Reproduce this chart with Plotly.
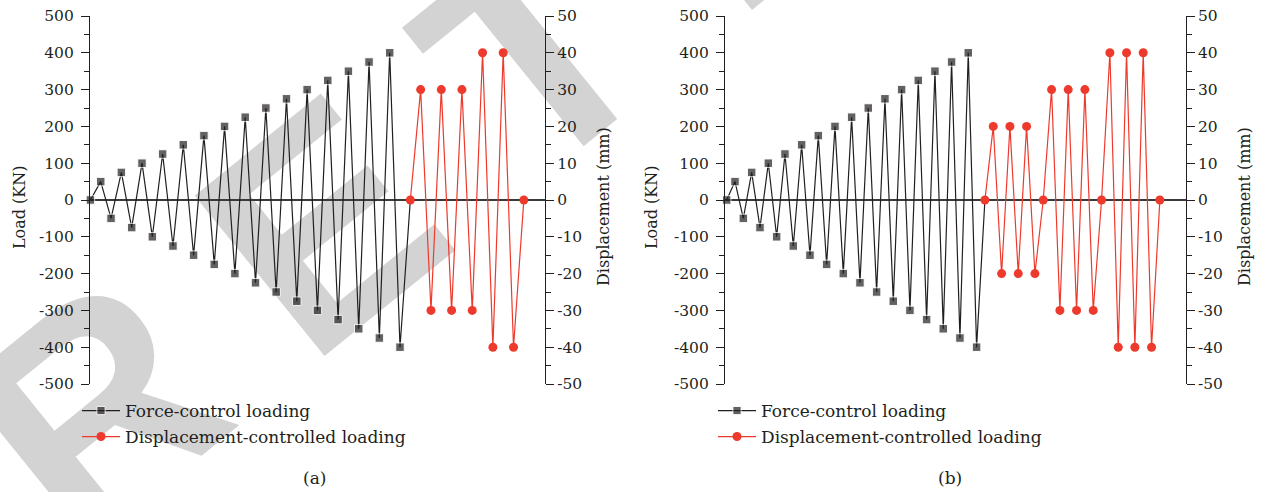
import math
import plotly.graph_objects as go

# ---------------- data ----------------
force_load_a = [0, 50, -50, 75, -75, 100, -100, 125, -125, 150, -150, 175, -175,
                200, -200, 225, -225, 250, -250, 275, -275, 300, -300, 325, -325,
                350, -350, 375, -375, 400, -400, 0]
disp_a = [0, 30, -30, 30, -30, 30, -30, 40, -40, 40, -40, 0]

force_load_b = [0, 50, -50, 75, -75, 100, -100, 125, -125, 150, -150, 175, -175,
                200, -200, 225, -225, 250, -250, 275, -275, 300, -300, 325, -325,
                350, -350, 375, -375, 400, -400, 0]
disp_b = [0, 20, -20, 20, -20, 20, -20, 0, 30, -30, 30, -30, 30, -30, 0,
          40, -40, 40, -40, 40, -40, 0]

load_ticks = [-500, -400, -300, -200, -100, 0, 100, 200, 300, 400, 500]
load_labels = ["-500", "-400", "-300", "-200", "-100", "0", "100", "200", "300", "400", "500"]
disp_ticks = [-50, -40, -30, -20, -10, 0, 10, 20, 30, 40, 50]
disp_labels = ["-50", "-40", "-30", "-20", "-10", "0", "10", "20", "30", "40", "50"]

force_name = "Force-control loading"
disp_name = "Displacement-controlled loading"
watermark = "R E T R A C T E D"

# ---------------- style ----------------
W, H = 1261, 492
BLACK = "#231f20"
RED = "#ee3a2c"
SERIF = "DejaVu Serif"

def px_x(p):
    return p / W

def px_y(p):
    return 1 - p / H

fig = go.Figure()

def add_panel(force, disp, xa, ya_left, ya_right, leg1, leg2):
    n_force = len(force)
    fx = list(range(n_force))
    sizes = [8.5] * (n_force - 1) + [0]
    fig.add_trace(go.Scatter(
        x=fx, y=force, xaxis=xa, yaxis=ya_left, mode="lines+markers",
        name=force_name, legend=leg1, cliponaxis=False,
        line=dict(color=BLACK, width=1.2),
        marker=dict(symbol="square", size=sizes, color=BLACK),
    ))
    dx = list(range(n_force - 1, n_force - 1 + len(disp)))
    fig.add_trace(go.Scatter(
        x=dx, y=disp, xaxis=xa, yaxis=ya_right, mode="lines+markers",
        name=disp_name, legend=leg2, cliponaxis=False,
        line=dict(color=RED, width=1.2),
        marker=dict(symbol="circle", size=9, color=RED),
    ))

add_panel(force_load_a, disp_a, "x", "y", "y2", "legend", "legend2")
add_panel(force_load_b, disp_b, "x2", "y3", "y4", "legend3", "legend4")

ydom = [px_y(384), px_y(16)]

def left_axis(anchor):
    return dict(
        domain=ydom, anchor=anchor, range=[-500, 500],
        tickmode="array", tickvals=load_ticks, ticktext=load_labels,
        showline=True, linecolor=BLACK, linewidth=1.3,
        ticks="outside", ticklen=8, tickwidth=1.3, tickcolor=BLACK,
        minor=dict(ticks="outside", ticklen=5, tickwidth=1.3, tickcolor=BLACK, dtick=50, tick0=0),
        showgrid=False, zeroline=True, zerolinecolor="#3a3a3a", zerolinewidth=1.5,
        tickfont=dict(family=SERIF, size=15.5, color=BLACK),
        ticklabelstandoff=4,
    )

def right_axis(anchor, overlay):
    return dict(
        domain=ydom, anchor=anchor, overlaying=overlay, side="right", range=[-50, 50],
        tickmode="array", tickvals=disp_ticks, ticktext=disp_labels,
        showline=True, linecolor=BLACK, linewidth=1.3,
        ticks="outside", ticklen=8, tickwidth=1.3, tickcolor=BLACK,
        minor=dict(ticks="outside", ticklen=5, tickwidth=1.3, tickcolor=BLACK, dtick=5, tick0=0),
        showgrid=False, zeroline=False,
        tickfont=dict(family=SERIF, size=15.5, color=BLACK),
    )

xa = dict(domain=[px_x(90), px_x(545)], range=[-0.04, 44.05], visible=False,
          anchor="y", showgrid=False, zeroline=False)
xb = dict(domain=[px_x(725), px_x(1185.7)], range=[-0.2, 55.1], visible=False,
          anchor="y3", showgrid=False, zeroline=False)

def legend_at(xp, yp):
    return dict(x=px_x(xp), y=px_y(yp), xanchor="left", yanchor="middle",
                bgcolor="rgba(0,0,0,0)", borderwidth=0, itemwidth=38,
                font=dict(family=SERIF, size=17, color=BLACK))

annotations = []
def title(text, xp, yp, angle=-90, size=16):
    annotations.append(dict(text=text, x=px_x(xp), y=px_y(yp), xref="paper", yref="paper",
                            showarrow=False, textangle=angle, xanchor="center", yanchor="middle",
                            font=dict(family=SERIF, size=size, color=BLACK)))

title("Load (KN)", 20, 207)
title("Displacement (mm)", 604, 207)
title("Load (KN)", 652, 207)
title("Displacement (mm)", 1245, 207)
title("(a)", 314, 478, angle=0, size=17)
title("(b)", 950, 478, angle=0, size=17)

# watermark (drawn below the data)
cx, cy = 962, -330
ang = math.radians(39)
dxp, dyp = 200 * math.cos(ang), -200 * math.sin(ang)
wm = dict(type="line", xref="paper", yref="paper", layer="below",
          x0=px_x(cx - dxp), y0=px_y(cy - dyp), x1=px_x(cx + dxp), y1=px_y(cy + dyp),
          line=dict(color="rgba(0,0,0,0)", width=1),
          label=dict(text=watermark, textposition="middle", textangle=-39,
                     xanchor="center", yanchor="middle", padding=0,
                     font=dict(family="Liberation Sans", size=300, color="#d3d3d3", weight="bold")))

fig.update_layout(
    width=W, height=H, margin=dict(l=0, r=0, t=0, b=0, autoexpand=False),
    paper_bgcolor="white", plot_bgcolor="rgba(0,0,0,0)", showlegend=True,
    xaxis=xa, xaxis2=xb,
    yaxis=left_axis("x"), yaxis2=right_axis("x", "y"),
    yaxis3=left_axis("x2"), yaxis4=right_axis("x2", "y3"),
    legend=legend_at(77, 411), legend2=legend_at(77, 437),
    legend3=legend_at(713, 411), legend4=legend_at(713, 437),
    annotations=annotations, shapes=[wm],
)

fig.write_html("out.html")
